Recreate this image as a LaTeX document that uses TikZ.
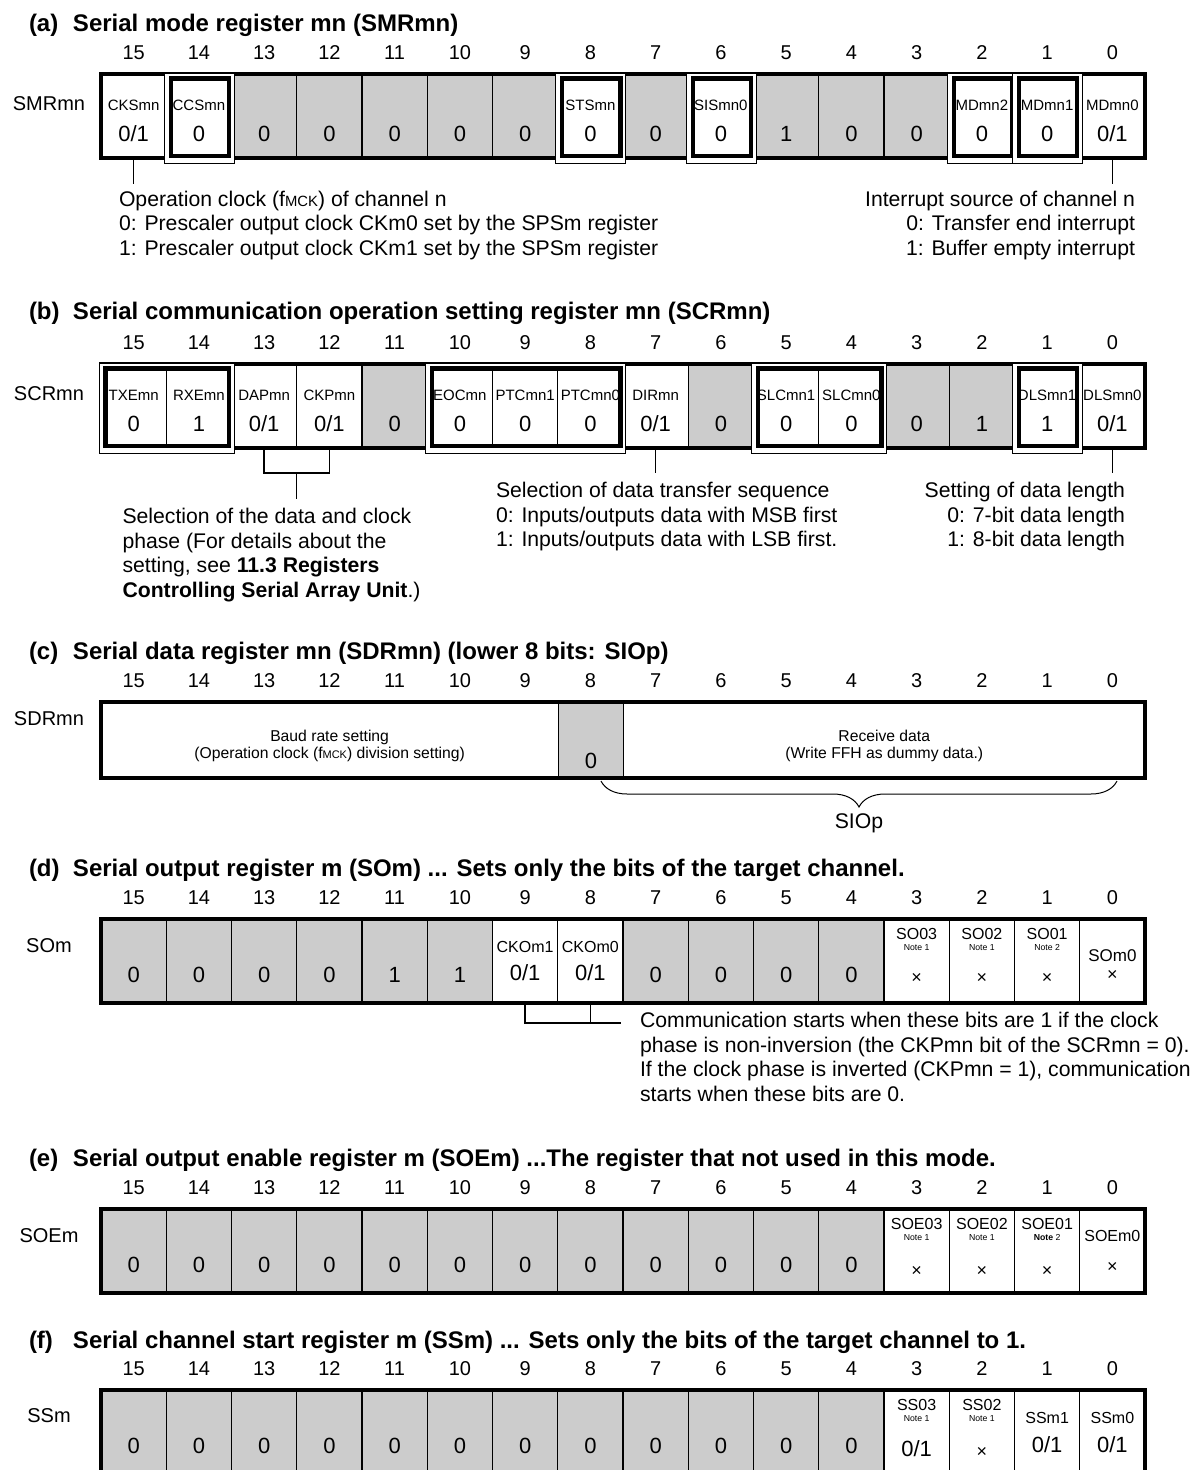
\documentclass[tikz,border=0pt]{standalone}
\usepackage{fontspec}
\setmainfont{Liberation Sans}
\usetikzlibrary{positioning, calc, decorations.pathreplacing}

\newcommand{\smrbits}{15/CKSmn/{0/1}/cell, 14/CCSmn/0/cell, 13//0/rsvd, 12//0/rsvd, 11//0/rsvd, 10//0/rsvd, 9//0/rsvd, 8/STSmn/0/cell, 7//0/rsvd, 6/SISmn0/0/cell, 5//1/rsvd, 4//0/rsvd, 3//0/rsvd, 2/MDmn2/0/cell, 1/MDmn1/0/cell, 0/MDmn0/{0/1}/cell}
\newcommand{\scrbits}{15/TXEmn/0/cell, 14/RXEmn/1/cell, 13/DAPmn/{0/1}/cell, 12/CKPmn/{0/1}/cell, 11//0/rsvd, 10/EOCmn/0/cell, 9/PTCmn1/0/cell, 8/PTCmn0/0/cell, 7/DIRmn/{0/1}/cell, 6//0/rsvd, 5/SLCmn1/0/cell, 4/SLCmn0/0/cell, 3//0/rsvd, 2//1/rsvd, 1/DLSmn1/1/cell, 0/DLSmn0/{0/1}/cell}

\begin{document}
\begin{tikzpicture}[
    x=1pt, y=-1pt,
    every node/.style={inner sep=0pt, outer sep=0pt},
    sect/.style={anchor=base west, font=\fontsize{24}{28}\selectfont\bfseries},
    bitno/.style={anchor=base, font=\fontsize{20}{24}\selectfont},
    regname/.style={anchor=base, font=\fontsize{20}{24}\selectfont},
    cell/.style={draw, line width=1.3pt, fill=white, minimum width=65.25pt, minimum height=84pt},
    rsvd/.style={cell, fill=black!20},
    regframe/.style={line width=4.3pt},
    bitname/.style={anchor=base, font=\fontsize{15}{18}\selectfont},
    bitname2/.style={anchor=base, font=\fontsize{16}{18}\selectfont},
    bitval/.style={anchor=base, font=\fontsize{22}{26}\selectfont},
    dontcare/.style={anchor=base, font=\fontsize{18}{20}\selectfont},
    notetxt/.style={anchor=base, font=\fontsize{8.7}{10}\selectfont},
    celltxt/.style={anchor=north, align=center, font=\fontsize{15.7}{17}\selectfont},
    desc/.style={font=\fontsize{21.2}{24.6}\selectfont},
    leader/.style={line width=1.3pt}
]
\useasboundingbox (0,0) rectangle (1194,1470);
\clip (0,0) rectangle (1194,1470);

% titles
\node[sect] (ttlA) at (29,31.6) {\makebox[44pt][l]{(a)}Serial mode register mn (SMRmn)};
\node[sect] (ttlB) at (29,319) {\makebox[44pt][l]{(b)}Serial communication operation setting register mn (SCRmn)};
\node[sect] (ttlC) at (29,659) {\makebox[44pt][l]{(c)}Serial data register mn (SDRmn) (lower 8 bits: SIOp)};
\node[sect] (ttlD) at (29,876.6) {\makebox[44pt][l]{(d)}Serial output register m (SOm) ... Sets only the bits of the target channel.};
\node[sect] (ttlE) at (29,1166.6) {\makebox[44pt][l]{(e)}Serial output enable register m (SOEm) ...The register that not used in this mode.};
\node[sect] (ttlF) at (29,1348) {\makebox[44pt][l]{(f)}Serial channel start register m (SSm) ... Sets only the bits of the target channel to 1.};

% bit numbers
\foreach \reg/\y in {a/59, b/349, c/687, d/904, e/1194, f/1375}
  \foreach \bit in {0,...,15}
    \node[bitno] (no\reg\bit) at ({133.625+(15-\bit)*65.25},\y) {\bit};

% register names
\node[regname] (smr) at (49,110) {SMRmn};
\node[regname] (scr) at (49,400) {SCRmn};
\node[regname] (sdr) at (49,725) {SDRmn};
\node[regname] (som) at (49,952) {SOm};
\node[regname] (soe) at (49,1242) {SOEm};
\node[regname] (ssm) at (49,1422) {SSm};

% cells
\foreach \bit/\nm/\val/\sty in \smrbits
  \node[\sty] (a\bit) at ({133.625+(15-\bit)*65.25},116) {};
\foreach \bit/\nm/\val/\sty in \scrbits
  \node[\sty] (b\bit) at ({133.625+(15-\bit)*65.25},406) {};

\node[cell, minimum width=457.25pt, minimum height=76pt] (cbaud) at (329.625,740) {};
\node[rsvd, minimum height=76pt] (c8) at (590.875,740) {};
\node[cell, minimum width=521.5pt, minimum height=76pt] (crecv) at (884.25,740) {};

\foreach \bit/\val in {15/0, 14/0, 13/0, 12/0, 11/1, 10/1, 7/0, 6/0, 5/0, 4/0} {
  \node[rsvd] (d\bit) at ({133.625+(15-\bit)*65.25},961) {};
  \node[bitval] (vld\bit) at ($(d\bit.north)+(0,63)$) {\val};
}
\foreach \bit in {9,8,3,2,1,0}
  \node[cell] (d\bit) at ({133.625+(15-\bit)*65.25},961) {};

\foreach \reg/\y in {e/1251, f/1432} {
  \foreach \bit in {4,...,15} {
    \node[rsvd] (\reg\bit) at ({133.625+(15-\bit)*65.25},\y) {};
    \node[bitval] (vl\reg\bit) at ($(\reg\bit.north)+(0,63)$) {0};
  }
  \foreach \bit in {0,...,3}
    \node[cell] (\reg\bit) at ({133.625+(15-\bit)*65.25},\y) {};
}

% register outlines
\foreach \reg in {a,b,d,e,f}
  \draw[regframe] (\reg15.north west) rectangle (\reg0.south east);
\draw[regframe] (cbaud.north west) rectangle (crecv.south east);

% double frames of the bits that are set
\foreach \p/\q in {a14/a14, a8/a8, a6/a6, a2/a2, a1/a1, b15/b14, b10/b8, b5/b4, b1/b1} {
  \fill[white, even odd rule] ($(\p.north west)+(-2,-1)$) rectangle ($(\q.south east)+(2.5,5)$)
    ($(\p.north west)+(4.5,4.5)$) rectangle ($(\q.south east)+(-2.5,-2)$);
  \draw[line width=1pt] ($(\p.north west)+(-2,-1)$) rectangle ($(\q.south east)+(2.5,5)$);
  \draw[regframe] ($(\p.north west)+(4.5,4.5)$) rectangle ($(\q.south east)+(-2.5,-2)$);
}

% bit names and values
\foreach \bit/\nm/\val/\sty in \smrbits {
  \node[bitname] (nma\bit) at ($(a\bit.north)+(0,36.4)$) {\nm};
  \node[bitval] (vla\bit) at ($(a\bit.north)+(0,67)$) {\val};
}
\foreach \bit/\nm/\val/\sty in \scrbits {
  \node[bitname] (nmb\bit) at ($(b\bit.north)+(0,36.4)$) {\nm};
  \node[bitval] (vlb\bit) at ($(b\bit.north)+(0,67)$) {\val};
}

\node[celltxt] (baudTxt) at ($(cbaud.north)+(0,28.2)$) {Baud rate setting\\(Operation clock (f\scalebox{0.7}{MCK}) division setting)};
\node[bitval] (vlc8) at ($(c8.north)+(0,66)$) {0};
\node[celltxt] (recvTxt) at ($(crecv.north)+(0,28.2)$) {Receive data\\(Write FFH as dummy data.)};

\foreach \bit/\nm in {9/CKOm1, 8/CKOm0} {
  \node[bitname2] (nmd\bit) at ($(d\bit.north)+(0,33.7)$) {\nm};
  \node[bitval] (vld\bit) at ($(d\bit.north)+(0,61.9)$) {0/1};
}
\foreach \bit/\nm/\nt in {3/SO03/Note 1, 2/SO02/Note 1, 1/SO01/Note 2} {
  \node[bitname2] (nmd\bit) at ($(d\bit.north)+(0,20.2)$) {\nm};
  \node[notetxt] (ntd\bit) at ($(d\bit.north)+(0,31.4)$) {\nt};
  \node[dontcare] (vld\bit) at ($(d\bit.north)+(0,64.4)$) {×};
}
\node[bitname2, font=\fontsize{17}{20}\selectfont] (nmd0) at ($(d0.north)+(0,42)$) {SOm0};
\node[dontcare] (vld0) at ($(d0.north)+(0,61.4)$) {×};

\foreach \bit/\nm/\nt in {3/SOE03/Note 1, 2/SOE02/Note 1, 1/SOE01/\textbf{Note} 2} {
  \node[bitname2] (nme\bit) at ($(e\bit.north)+(0,20.2)$) {\nm};
  \node[notetxt] (nte\bit) at ($(e\bit.north)+(0,31.4)$) {\nt};
  \node[dontcare] (vle\bit) at ($(e\bit.north)+(0,67.4)$) {×};
}
\node[bitname2] (nme0) at ($(e0.north)+(0,32.9)$) {SOEm0};
\node[dontcare] (vle0) at ($(e0.north)+(0,63.4)$) {×};

\foreach \bit/\nm in {3/SS03, 2/SS02} {
  \node[bitname2] (nmf\bit) at ($(f\bit.north)+(0,20.2)$) {\nm};
  \node[notetxt] (ntf\bit) at ($(f\bit.north)+(0,31.4)$) {Note 1};
}
\node[bitval] (vlf3) at ($(f3.north)+(0,66)$) {0/1};
\node[dontcare] (vlf2) at ($(f2.north)+(0,67.4)$) {×};
\foreach \bit/\nm in {1/SSm1, 0/SSm0} {
  \node[bitname2] (nmf\bit) at ($(f\bit.north)+(0,33.7)$) {\nm};
  \node[bitval] (vlf\bit) at ($(f\bit.north)+(0,62)$) {0/1};
}

% (a) notes
\coordinate (cksEnd) at ($(a15.south)+(0,26)$);
\draw[leader] (a15.south) -- (cksEnd);
\node[desc, anchor=north west, align=left] (cksNote) at (119,191) {Operation clock (f\scalebox{0.7}{MCK}) of channel n\\0: Prescaler output clock CKm0 set by the SPSm register\\1: Prescaler output clock CKm1 set by the SPSm register};
\coordinate (mdEnd) at ($(a0.south)+(0,26)$);
\draw[leader] (a0.south) -- (mdEnd);
\node[desc, anchor=north east, align=right] (mdNote) at (1135,191) {Interrupt source of channel n\\0: Transfer end interrupt\\1: Buffer empty interrupt};

% (b) notes
\coordinate (phJoin) at ($(b13.south)!0.5!(b12.south)+(0,25)$);
\draw[leader] (b13.south) |- (phJoin) -| (b12.south);
\coordinate (phEnd) at ($(phJoin)+(0,26)$);
\draw[leader] (phJoin) -- (phEnd);
\node[desc, anchor=north west, align=left] (phNote) at (122.5,508.3) {Selection of the data and clock\\phase (For details about the\\setting, see \textbf{11.3 Registers}\\\textbf{Controlling Serial Array Unit}.)};
\coordinate (dirEnd) at ($(b7.south)+(0,25)$);
\draw[leader] (b7.south) -- (dirEnd);
\node[desc, anchor=north west, align=left] (dirNote) at (496,482.3) {Selection of data transfer sequence\\0: Inputs/outputs data with MSB first\\1: Inputs/outputs data with LSB first.};
\coordinate (dlsEnd) at ($(b0.south)+(0,25)$);
\draw[leader] (b0.south) -- (dlsEnd);
\node[desc, anchor=north east, align=right] (dlsNote) at (1125,482.3) {Setting of data length\\0: 7-bit data length\\1: 8-bit data length};

% (c) SIOp brace
\coordinate (sioL) at (601,781);
\coordinate (sioR) at (1117,781);
\draw[line width=1pt, decorate, decoration={brace, amplitude=26pt}] (sioR) -- (sioL);
\node[desc, anchor=base] (sioTxt) at (859,828) {SIOp};

% (d) CKO note
\coordinate (ckoTail) at (621,1023);
\draw[leader] (d9.south) |- (ckoTail);
\draw[leader] (d8.south) -- (d8.south |- ckoTail);
\node[desc, anchor=north west, align=left] (ckoNote) at (640,1012.3) {Communication starts when these bits are 1 if the clock\\phase is non-inversion (the CKPmn bit of the SCRmn = 0).\\If the clock phase is inverted (CKPmn = 1), communication\\starts when these bits are 0.};

\end{tikzpicture}
\end{document}
